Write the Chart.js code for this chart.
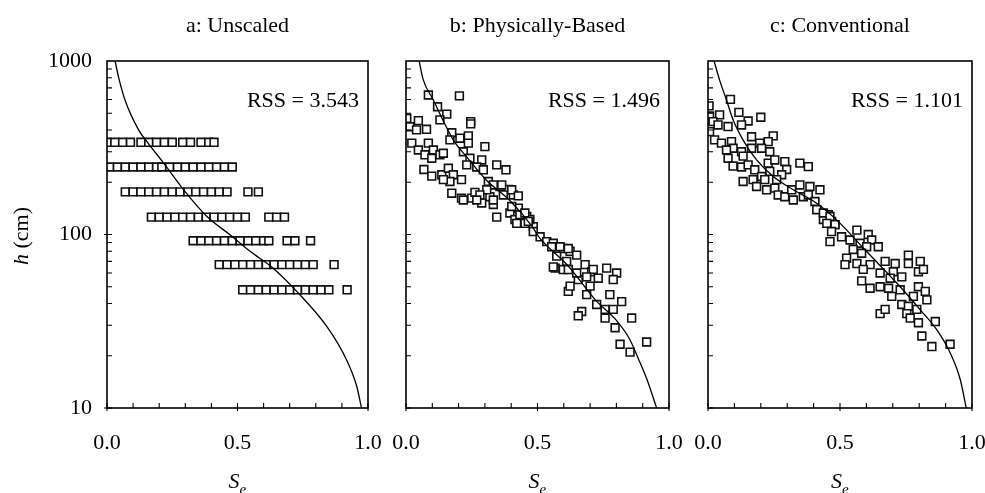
<!DOCTYPE html>
<html>
<head>
<meta charset="utf-8">
<script src="https://cdn.jsdelivr.net/npm/chart.js@4.4.1/dist/chart.umd.min.js"></script>
<style>
  body { margin: 0; background: #fff; }
  #wrap { position: relative; width: 985px; height: 493px; overflow: hidden; }
  canvas { position: absolute; top: 0; }
</style>
</head>
<body>
<div id="wrap">
  <canvas id="ca" width="390" height="493" style="left:0px"></canvas>
  <canvas id="cb" width="315" height="493" style="left:375px"></canvas>
  <canvas id="cc" width="310" height="493" style="left:675px"></canvas>
</div>
<script>
// panel a: measured h levels and the Se values read along each row
var aRowH = [340, 245, 176, 126, 92, 67, 48];
var aRowSe = [
  [0.00,0.03,0.06,0.09,0.13,0.16,0.19,0.22,0.25,0.29,0.32,0.36,0.39,0.41],
  [0.01,0.04,0.07,0.10,0.13,0.16,0.19,0.21,0.24,0.27,0.30,0.33,0.36,0.39,0.42,0.45,0.48],
  [0.07,0.10,0.13,0.16,0.19,0.22,0.25,0.28,0.31,0.34,0.37,0.40,0.43,0.46,0.54,0.58],
  [0.17,0.20,0.23,0.26,0.29,0.32,0.35,0.38,0.41,0.44,0.47,0.50,0.53,0.62,0.65,0.68],
  [0.33,0.36,0.39,0.42,0.45,0.48,0.51,0.54,0.57,0.60,0.62,0.69,0.72,0.78],
  [0.43,0.46,0.49,0.52,0.55,0.58,0.61,0.64,0.67,0.70,0.73,0.76,0.79,0.87],
  [0.52,0.55,0.58,0.61,0.64,0.67,0.70,0.73,0.76,0.79,0.82,0.85,0.92]
];
var aCurveSe = [0.031,0.045,0.069,0.121,0.155,0.217,0.30,0.385,0.47,0.548,0.631,0.727,0.842,0.918,0.957,0.975];
var aCurveH  = [1000,800,596,401,340,258,176,126,100,80,65,47,29.5,18.9,13.3,10];

// panel b: physically-based scaling
var bSe = [0.085,0.203,0.12,0.155,0.129,0.246,0.246,0.003,0.047,0.015,0.04,0.078,0.174,0.205,0.237,0.167,0.237,0.022,0.047,0.085,
  0.104,0.072,0.129,0.098,0.30,0.218,0.243,0.288,0.231,0.269,0.294,0.345,0.38,0.068,0.098,0.136,0.161,0.18,0.167,0.211,
  0.313,0.357,0.389,0.174,0.211,0.25,0.262,0.288,0.319,0.332,0.408,0.427,0.395,0.345,0.414,0.459,0.452,0.484,
  0.142,0.142,0.332,0.364,0.307,0.281,0.269,0.332,0.218,0.37,0.402,0.427,0.402,0.433,0.471,0.421,
  0.452,0.465,0.484,0.51,0.535,0.56,0.598,0.624,0.573,0.611,0.567,0.598,0.681,0.706,0.763,0.801,0.655,0.731,0.617,0.687,
  0.775,0.82,0.725,0.757,0.788,0.668,0.655,0.757,0.858,0.795,0.814,0.852,0.915,
  0.554,0.586,0.617,0.649,0.56,0.617,0.649,0.712,0.788,0.687,0.624,0.70];
var bH = [637,630,545,494,458,447,434,467,453,418,401,404,386,359,370,351,336,336,307,336,
  307,288,288,275,321,300,275,269,252,245,236,252,236,237,217,221,241,221,202,207,
  202,189,182,173,162,162,175,152,165,149,169,142,133,126,122,127,116,111,
  294,207,193,193,181,169,158,158,158,169,181,167,145,130,122,116,
  133,119,104,97,91,89,83,80,75,70,64,62.8,67,61,64,60,55,56,47,45,
  45,41,39.5,37,37,36,34,33,33,29,23.3,21,24,
  85,85,83,76,65,62.8,60,63,55,57,50.4,50.4];
var bCurveSe = [0.05,0.066,0.104,0.14,0.18,0.23,0.305,0.393,0.48,0.505,0.62,0.72,0.80,0.85,0.885,0.917,0.953];
var bCurveH  = [1000,776,596,458,350,281,206,158,111,97,65,42,32,25,19,14.5,10];

// panel c: conventional scaling
var cSe = [0.085,0.004,0.117,0.20,0.152,0.127,0.044,0.006,0.019,0.038,0.076,0.006,0.165,0.247,0.228,0.196,0.025,0.051,0.089,0.095,
  0.07,0.127,0.165,0.203,0.234,0.348,0.38,0.076,0.133,0.095,0.127,0.152,0.177,0.228,0.253,0.291,0.298,0.279,0.234,0.203,
  0.171,0.215,0.26,0.133,0.184,0.222,0.253,0.266,0.291,0.317,0.348,0.386,0.424,0.323,0.361,0.38,0.405,0.412,0.456,0.437,0.468,0.481,
  0.437,0.462,0.481,0.45,0.468,0.506,0.462,0.564,0.538,0.576,0.607,0.62,0.645,0.601,0.55,0.582,0.525,0.519,0.564,0.614,
  0.588,0.671,0.709,0.759,0.759,0.804,0.797,0.816,0.652,0.702,0.734,0.69,0.582,0.614,0.652,0.684,0.728,0.696,0.778,0.797,
  0.823,0.829,0.734,0.759,0.791,0.652,0.671,0.753,0.766,0.797,0.861,0.81,0.848,0.917];
var cH = [601,551,506,474,451,428,489,482,447,428,419,392,366,370,343,336,351,336,343,314,
  307,300,314,314,300,258,246,275,283,248,245,252,236,258,269,263,237,221,231,216,
  207,207,207,202,189,181,185,169,165,181,193,189,181,158,165,169,155,139,130,122,119,114,
  133,127,114,116,104,97,91,106,93,89,100,93,85,85,82,78,73,67,68,67,
  63,70,68,76,68,70,61,63,60,61,57,56,54,49,50,49,48,44,44,50,
  47,42,39.5,38.6,37,35,37,35,33,31,31.5,26,22.6,23.3];
var cCurveSe = [0.023,0.044,0.07,0.095,0.133,0.184,0.247,0.323,0.41,0.488,0.60,0.728,0.804,0.867,0.918,0.956,0.978];
var cCurveH  = [1000,776,596,458,350,269,216,181,152,121,80,50,36.8,28.2,20.7,14.5,10];

var titles = ['a: Unscaled', 'b: Physically-Based', 'c: Conventional'];
var rssLabels = ['RSS = 3.543', 'RSS = 1.496', 'RSS = 1.101'];
var yLabels = [10, 100, 1000];

var SERIF = '"Liberation Serif", "DejaVu Serif", serif';
Chart.defaults.font.family = SERIF;
Chart.defaults.color = '#000';

function pairs(xs, ys) {
  return xs.map(function (v, i) { return { x: v, y: ys[i] }; });
}

var aPts = [];
aRowSe.forEach(function (row, r) {
  row.forEach(function (s) { aPts.push({ x: s, y: aRowH[r] }); });
});

// frame, inward ticks and the texts that need italics / subscripts
var decor = {
  id: 'decor',
  afterDraw: function (chart, args, o) {
    var ctx = chart.ctx, a = chart.chartArea;
    var x = chart.scales.x, y = chart.scales.y;
    ctx.save();
    ctx.strokeStyle = '#000';
    ctx.lineWidth = 1.6;
    ctx.strokeRect(a.left, a.top, a.right - a.left, a.bottom - a.top);

    ctx.lineWidth = 1.1;
    ctx.beginPath();
    for (var i = 0; i <= 10; i++) {
      var px = x.getPixelForValue(i / 10);
      ctx.moveTo(px, a.bottom);
      ctx.lineTo(px, a.bottom - 5);
      if (i % 5 == 0) { ctx.moveTo(px, a.bottom); ctx.lineTo(px, a.bottom + 3); }
    }
    [10, 100].forEach(function (d) {
      for (var k = 1; k <= 9; k++) {
        var py = y.getPixelForValue(d * k);
        ctx.moveTo(a.left, py);
        ctx.lineTo(a.left + 5, py);
        if (k == 1 && o.showY) { ctx.moveTo(a.left, py); ctx.lineTo(a.left - 3, py); }
      }
    });
    ctx.stroke();

    ctx.fillStyle = '#000';
    ctx.font = '22px ' + SERIF;
    ctx.textBaseline = 'alphabetic';
    ctx.textAlign = 'center';
    var cx = (a.left + a.right) / 2;
    ctx.fillText(o.title, cx, 32);
    ctx.textAlign = 'right';
    ctx.fillText(o.rss, a.right - 9, 107);

    // S_e
    ctx.textAlign = 'left';
    ctx.font = 'italic 22px ' + SERIF;
    var sw = ctx.measureText('S').width;
    ctx.fillText('S', cx - 9, 488);
    ctx.font = 'italic 15px ' + SERIF;
    ctx.fillText('e', cx - 9 + sw, 494);

    if (o.showY) {
      ctx.translate(28, 236);
      ctx.rotate(-Math.PI / 2);
      ctx.font = 'italic 22px ' + SERIF;
      var hw = ctx.measureText('h').width;
      ctx.font = '22px ' + SERIF;
      var rw = ctx.measureText(' (cm)').width;
      var x0 = -(hw + rw) / 2;
      ctx.font = 'italic 22px ' + SERIF;
      ctx.fillText('h', x0, 0);
      ctx.font = '22px ' + SERIF;
      ctx.fillText(' (cm)', x0 + hw, 0);
    }
    ctx.restore();
  }
};

function makePanel(id, idx, pts, curveSe, curveH, axisW, padRight, showY) {
  return new Chart(document.getElementById(id), {
    type: 'scatter',
    data: {
      datasets: [{
        data: pairs(curveSe, curveH),
        showLine: true,
        pointRadius: 0,
        borderColor: '#000',
        borderWidth: 1.3,
        cubicInterpolationMode: 'monotone',
        order: 0
      }, {
        data: pts,
        pointStyle: 'rect',
        pointRadius: 5.5,
        borderColor: '#111',
        backgroundColor: '#fff',
        borderWidth: 1.6,
        order: 1
      }]
    },
    options: {
      responsive: false,
      animation: false,
      devicePixelRatio: 1,
      layout: { padding: { top: 61, right: padRight, left: 0, bottom: 0 } },
      plugins: {
        legend: { display: false },
        tooltip: { enabled: false },
        decor: { title: titles[idx], rss: rssLabels[idx], showY: showY }
      },
      scales: {
        x: {
          type: 'linear', min: 0, max: 1,
          afterFit: function (s) { s.height = 85; s.paddingLeft = 0; s.paddingRight = 0; },
          grid: { display: false, drawTicks: false },
          border: { display: false },
          ticks: {
            stepSize: 0.5, padding: 22, maxRotation: 0, minRotation: 0,
            font: { size: 22 },
            callback: function (v) { return v.toFixed(1); }
          }
        },
        y: {
          type: 'logarithmic', min: 10, max: 1000,
          afterFit: function (s) { s.width = axisW; s.paddingTop = 0; s.paddingBottom = 0; },
          grid: { display: false, drawTicks: false },
          border: { display: false },
          ticks: {
            display: showY, autoSkip: false, padding: 15,
            font: { size: 22 },
            callback: function (v) { return yLabels.indexOf(v) >= 0 ? String(v) : ''; }
          }
        }
      }
    },
    plugins: [decor]
  });
}

makePanel('ca', 0, aPts, aCurveSe, aCurveH, 107, 22, true);
makePanel('cb', 1, pairs(bSe, bH), bCurveSe, bCurveH, 31, 21, false);
makePanel('cc', 2, pairs(cSe, cH), cCurveSe, cCurveH, 33, 13, false);
</script>
</body>
</html>
